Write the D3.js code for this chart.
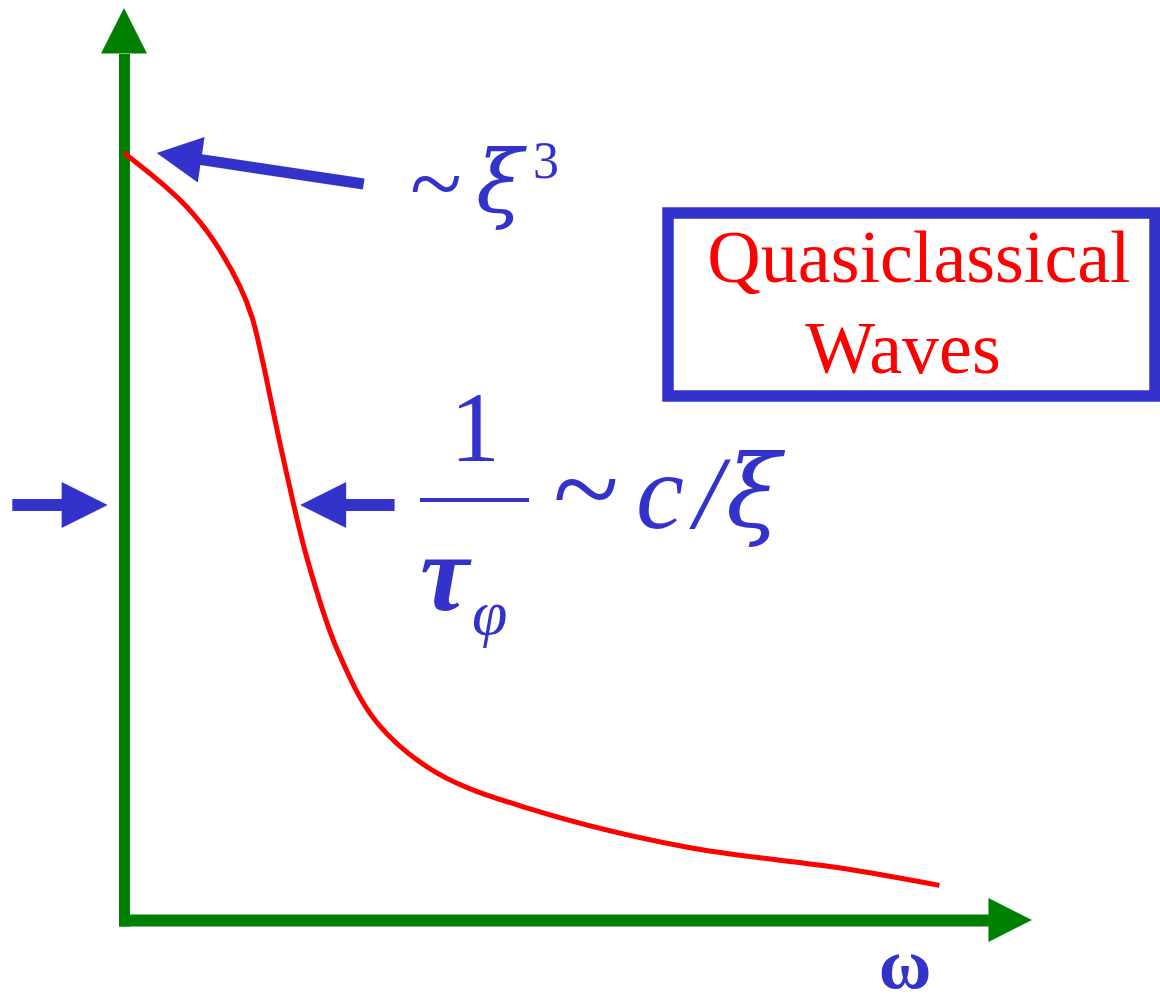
<!DOCTYPE html>
<html>
<head>
<meta charset="utf-8">
<script src="https://cdn.jsdelivr.net/npm/d3@7"></script>
<style>
  html, body { margin: 0; padding: 0; background: #fff; }
  svg { display: block; }
</style>
</head>
<body>
<div id="chart"></div>
<script>
// curve (arbitrary units, origin at the axes corner)
const omega    = [0, 0.40, 0.69, 0.98, 1.28, 1.41, 1.50, 1.75, 2.02, 2.35, 2.79, 3.45, 4.50, 6.19, 7.89, 8.98];
const response = [8.41, 8.09, 7.82, 7.46, 6.94, 6.61, 6.25, 5.08, 3.95, 2.96, 2.16, 1.61, 1.21, 0.80, 0.57, 0.38];

// annotation arrows: [tailX, tailY, tipX, tipY] in data units
const xiArrow    = [2.64, 8.07, 0.36, 8.41];
const levelLeft  = [-1.23, 4.55, -0.18, 4.55];
const levelRight = [2.98, 4.55, 1.94, 4.55];

const W = 1160, H = 1007;
const blue = "#3333cc", red = "#ff0000", green = "#008000";
const serif = "'Liberation Serif', 'Times New Roman', serif";
const greek = "'DejaVu Serif', 'Liberation Serif', serif";

const svg = d3.select("#chart").append("svg")
  .attr("width", W).attr("height", H);

const x = d3.scaleLinear().domain([0, 10]).range([124, 1032]);
const y = d3.scaleLinear().domain([0, 10]).range([920, 8]);

// Ejes (sin ticks, solo la línea)
const xAxisEnd = 9.52, yAxisEnd = 9.5;
const xLine = x.copy().domain([0, xAxisEnd]).range([x(0) - 5, x(xAxisEnd)]);
const yLine = y.copy().domain([0, yAxisEnd]).range([y(0) + 6, y(yAxisEnd)]);

const gx = svg.append("g")
  .attr("transform", `translate(0,${y(0)})`)
  .call(d3.axisBottom(xLine).ticks(0).tickSizeOuter(0));
gx.select(".domain").attr("stroke", green).attr("stroke-width", 12);

const gy = svg.append("g")
  .attr("transform", `translate(${x(0)},0)`)
  .call(d3.axisLeft(yLine).ticks(0).tickSizeOuter(0));
gy.select(".domain").attr("stroke", green).attr("stroke-width", 11);

// puntas de los ejes
svg.append("path")
  .attr("d", `M${x(xAxisEnd)},${y(0) - 22}L${x(10)},${y(0)}L${x(xAxisEnd)},${y(0) + 22}Z`)
  .attr("fill", green);
svg.append("path")
  .attr("d", `M${x(0) - 23},${y(yAxisEnd)}L${x(0)},${y(10)}L${x(0) + 23},${y(yAxisEnd)}Z`)
  .attr("fill", green);

// Curva
const line = d3.line()
  .x((d, i) => x(omega[i]))
  .y(d => y(d))
  .curve(d3.curveCatmullRom.alpha(0.5));

svg.append("path")
  .datum(response)
  .attr("d", line)
  .attr("fill", "none")
  .attr("stroke", red)
  .attr("stroke-width", 5);

// Flechas azules
function arrow(a, headLen = 46, headHalf = 23, shaftHalf = 6) {
  const x1 = x(a[0]), y1 = y(a[1]), x2 = x(a[2]), y2 = y(a[3]);
  const len = Math.hypot(x2 - x1, y2 - y1);
  const ux = (x2 - x1) / len, uy = (y2 - y1) / len;
  const nx = -uy, ny = ux;
  const bx = x2 - ux * headLen, by = y2 - uy * headLen;
  const pts = [
    [x1 + nx * shaftHalf, y1 + ny * shaftHalf],
    [bx + nx * shaftHalf, by + ny * shaftHalf],
    [bx + nx * headHalf, by + ny * headHalf],
    [x2, y2],
    [bx - nx * headHalf, by - ny * headHalf],
    [bx - nx * shaftHalf, by - ny * shaftHalf],
    [x1 - nx * shaftHalf, y1 - ny * shaftHalf]
  ];
  svg.append("path")
    .attr("d", "M" + pts.map(p => p.join(",")).join("L") + "Z")
    .attr("fill", blue);
}
arrow(xiArrow, 45, 23, 5.5);
arrow(levelLeft);
arrow(levelRight);

// Etiquetas
const label = (tx, ty, txt, size, opts = {}) => svg.append("text")
  .attr("x", tx).attr("y", ty)
  .attr("fill", opts.fill || blue)
  .attr("font-family", opts.family || serif)
  .attr("font-size", size)
  .attr("font-style", opts.italic ? "italic" : "normal")
  .attr("font-weight", opts.bold ? "bold" : "normal")
  .attr("text-anchor", opts.anchor || "start")
  .text(txt);

// ~ xi^3
label(410, 215, "~", 96);
label(476, 212, "ξ", 86, { italic: true, family: greek });
label(533, 178, "3", 52);

// 1 / tau_phi ~ c / xi
label(475, 461, "1", 100, { anchor: "middle" });
svg.append("line")
  .attr("x1", 420).attr("x2", 529)
  .attr("y1", 500).attr("y2", 500)
  .attr("stroke", blue).attr("stroke-width", 4);
label(420, 610, "τ", 110, { italic: true, bold: true });
label(472, 634, "φ", 64, { italic: true });
label(553, 530, "~", 122);
label(636, 528, "c", 108, { italic: true });
label(694, 528, "/", 104, { italic: true });
label(726, 526, "ξ", 100, { italic: true, family: greek });

// omega
label(905, 988, "ω", 72, { anchor: "middle", bold: true });

// Caja
svg.append("rect")
  .attr("x", 668).attr("y", 213)
  .attr("width", 487).attr("height", 183)
  .attr("fill", "none")
  .attr("stroke", blue).attr("stroke-width", 11.5);
label(919, 282, "Quasiclassical", 74, { fill: red, anchor: "middle" });
label(903, 373, "Waves", 74, { fill: red, anchor: "middle" });
</script>
</body>
</html>
